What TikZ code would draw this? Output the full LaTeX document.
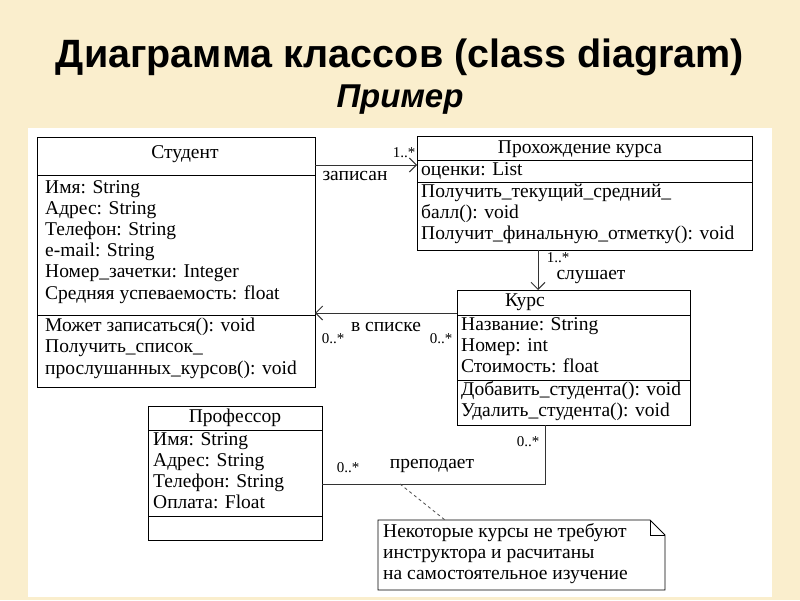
\documentclass[tikz,border=0pt]{standalone}
\usepackage{fontspec}
\setmainfont{Liberation Serif}
\newfontfamily\titlefont{Liberation Sans}
\usetikzlibrary{arrows.meta}
\begin{document}
\begin{tikzpicture}[x=1pt,y=-1pt,
  box/.style={draw=black,line width=1pt},
  txt/.style={anchor=west,inner sep=0pt,font=\fontsize{19.5}{21.2}\selectfont,align=left},
  lab/.style={inner sep=0pt,font=\fontsize{15}{17}\selectfont},
  big/.style={inner sep=0pt,font=\fontsize{19.5}{21}\selectfont},
  conn/.style={draw=black!80,line width=1pt},
  oarr/.style={-{Straight Barb[length=7pt,width=14pt]}}]
\fill[fill={rgb,255:red,250;green,238;blue,205}] (0,0) rectangle (800,600);
\useasboundingbox (0,0) rectangle (800,600);
\fill[white] (28,128) rectangle (772,597);
\node[font=\titlefont\bfseries\fontsize{39.5}{44}\selectfont] (t1) at (400,57) {Диаграмма классов (class diagram)};
\node[font=\titlefont\bfseries\itshape\fontsize{33}{38}\selectfont] (t2) at (400,100) {Пример};
% Student
\draw[box] (37,137) rectangle (315,387);
\draw[box] (37,175) -- (315,175) (37,315) -- (315,315);
\node[txt,anchor=center] (sn) at (185,154) {Студент};
\node[txt,anchor=north west] (sa) at (45,180) {Имя: String\\Адрес: String\\Телефон: String\\e-mail: String\\Номер\_зачетки: Integer\\Средняя успеваемость: float};
\node[txt,anchor=north west] (sm) at (45,318) {Может записаться(): void\\Получить\_список\_\\прослушанных\_курсов(): void};
\coordinate (s1) at (315,165);
\coordinate (s2) at (315,313);
% Прохождение
\draw[box] (417,136) rectangle (752,250);
\draw[box] (417,160) -- (752,160) (417,182) -- (752,182);
\node[txt,anchor=center] (pn) at (580,149) {Прохождение курса};
\node[txt] (pa) at (421,171) {оценки: List};
\node[txt,anchor=north west] (pm) at (421,184) {Получить\_текущий\_средний\_\\балл(): void\\Получит\_финальную\_отметку(): void};
\coordinate (p1) at (417,165);
\coordinate (p2) at (538,250);
% Курс
\draw[box] (457,290) rectangle (690,425);
\draw[box] (457,315) -- (690,315) (457,380) -- (690,380);
\node[txt,anchor=center] (kn) at (525,302) {Курс};
\node[txt,anchor=north west] (ka) at (461,317) {Название: String\\Номер: int\\Стоимость: float};
\node[txt,anchor=north west] (km) at (461,381) {Добавить\_студента(): void\\Удалить\_студента(): void};
\coordinate (k1) at (538,290);
\coordinate (k2) at (457,313);
\coordinate (k3) at (545,425);
% Профессор
\draw[box] (148,406) rectangle (322,540);
\draw[box] (148,430) -- (322,430) (148,516) -- (322,516);
\node[txt,anchor=center] (prn) at (235,418) {Профессор};
\node[txt,anchor=north west] (pra) at (153,432) {Имя: String\\Адрес: String\\Телефон: String\\Оплата: Float};
\coordinate (pr1) at (322,484);
\coordinate (bend) at (545,484);
% Note
\draw[line width=0.8pt] (378,520) -- (650,520) -- (665,535) -- (665,590) -- (378,590) -- cycle;
\draw[line width=0.8pt] (650,520) -- (650,535) -- (665,535);
\node[txt,anchor=north west] (note) at (383,523) {Некоторые курсы не требуют\\инструктора и расчитаны\\на самостоятельное изучение};
\coordinate (nt) at (445,520);
\coordinate (nd) at (400,484);
% connectors
\draw[conn,oarr] (s1) -- (p1);
\node[lab] (l1) at (404,153) {1..*};
\node[big] (l2) at (355,176) {записан};
\draw[conn,oarr] (p2) -- (k1);
\node[lab] (l3) at (558,258) {1..*};
\node[big] (l4) at (591,277) {слушает};
\draw[conn,oarr] (k2) -- (s2);
\node[lab] (l5) at (333,339) {0..*};
\node[big] (l6) at (386,327) {в списке};
\node[lab] (l7) at (441,339) {0..*};
\draw[conn] (pr1) -- (bend) -- (k3);
\node[lab] (l8) at (348,468) {0..*};
\node[big] (l9) at (432,466) {преподает};
\node[lab] (l10) at (528,442) {0..*};
\draw[dashed,black!70,line width=0.8pt] (nd) -- (nt);
\end{tikzpicture}
\end{document}
